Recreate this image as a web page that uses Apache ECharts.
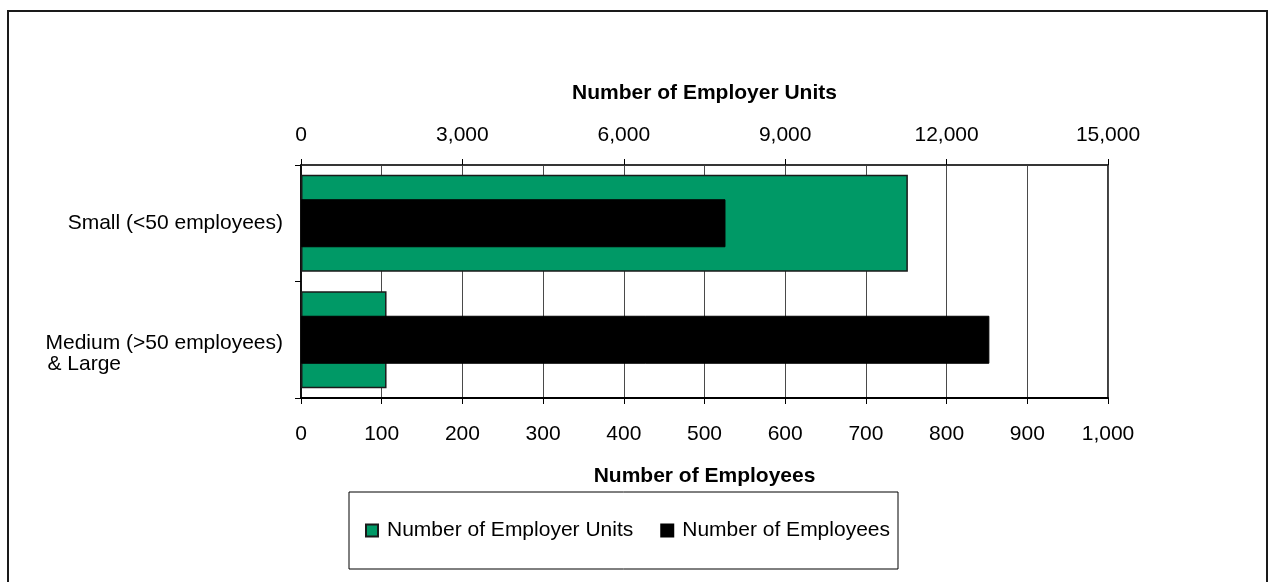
<!DOCTYPE html>
<html><head><meta charset="utf-8">
<script src="https://cdn.jsdelivr.net/npm/echarts@6/dist/echarts.min.js"></script>
<style>html,body{margin:0;padding:0;background:#fff}#c{width:1269px;height:582px}</style>
</head><body><div id="c"></div>
<script>
const categories = ['Small (<50 employees)', 'Medium (>50 employees) & Large'];
const employerUnits = [11280, 1590];
const employees = [526, 853];
const unitsAxis = { min: 0, max: 15000, interval: 3000 };
const employeesAxis = { min: 0, max: 1000, interval: 100 };
const seriesNames = ['Number of Employer Units', 'Number of Employees'];

const FONT = 'Liberation Sans, Arial, sans-serif';
const fmt = v => Number(v).toLocaleString('en-US');

const chart = echarts.init(document.getElementById('c'), null, { renderer: 'canvas' });
chart.setOption({
  backgroundColor: '#fff',
  animation: false,
  textStyle: { fontFamily: FONT, color: '#000' },
  graphic: [{
    type: 'rect', silent: true, z: -1,
    shape: { x: 8, y: 11, width: 1259, height: 620 },
    style: { fill: 'none', stroke: '#1a1a1a', lineWidth: 2 }
  }],
  grid: { left: 301, right: 161, top: 165, bottom: 184, show: true, borderColor: '#000', borderWidth: 1.5, backgroundColor: 'transparent' },
  legend: {
    left: 349, top: 492,
    icon: 'rect', itemWidth: 12, itemHeight: 12, itemGap: 27,
    padding: [28, 8, 28, 16],
    borderColor: '#000', borderWidth: 1,
    textStyle: { fontSize: 21, color: '#000', fontFamily: FONT, padding: [0, 0, 0, 4] },
    data: seriesNames
  },
  xAxis: [{
    type: 'value', position: 'top',
    min: unitsAxis.min, max: unitsAxis.max, interval: unitsAxis.interval,
    name: seriesNames[0], nameLocation: 'middle', nameGap: 61,
    nameTextStyle: { fontSize: 21, fontWeight: 'bold', color: '#000', fontFamily: FONT },
    axisLine: { show: true, lineStyle: { color: '#333', width: 1.5 } },
    axisTick: { show: true, inside: false, length: 6, lineStyle: { color: '#000', width: 1 } },
    axisLabel: { fontSize: 21, color: '#000', margin: 19, formatter: fmt, fontFamily: FONT },
    splitLine: { show: false }
  }, {
    type: 'value', position: 'bottom',
    min: employeesAxis.min, max: employeesAxis.max, interval: employeesAxis.interval,
    name: seriesNames[1], nameLocation: 'middle', nameGap: 68,
    nameTextStyle: { fontSize: 21, fontWeight: 'bold', color: '#000', fontFamily: FONT },
    axisLine: { show: true, lineStyle: { color: '#000', width: 2 } },
    axisTick: { show: true, inside: false, length: 6, lineStyle: { color: '#000', width: 1 } },
    axisLabel: { fontSize: 21, color: '#000', margin: 26, formatter: fmt, fontFamily: FONT },
    splitLine: { show: true, lineStyle: { color: '#4a4a4a', width: 1 } }
  }],
  yAxis: [{
    type: 'category', inverse: true, data: categories,
    axisLine: { show: true, lineStyle: { color: '#000', width: 1.5 } },
    axisTick: { show: true, length: 6, lineStyle: { color: '#000' } },
    axisLabel: {
      fontSize: 21, color: '#000', margin: 18, fontFamily: FONT,
      formatter: function (v, i) {
        if (i === 1) {
          const parts = v.split(' & ');
          return '{e| }\n{a|' + parts[0] + '}\n{b|& ' + parts[1] + '}';
        }
        return '{a|' + v + '}';
      },
      rich: {
        e: { fontSize: 21, lineHeight: 27, color: '#000', fontFamily: FONT },
        a: { fontSize: 21, lineHeight: 21, color: '#000', fontFamily: FONT },
        b: { fontSize: 21, lineHeight: 21, color: '#000', fontFamily: FONT, align: 'left', padding: [0, 0, 0, 2] }
      }
    },
    splitLine: { show: false }
  }, {
    type: 'category', inverse: true, data: categories, show: false
  }],
  series: [{
    name: seriesNames[0], type: 'bar', xAxisIndex: 0, yAxisIndex: 0,
    data: employerUnits, barWidth: 97,
    itemStyle: { color: '#009966', borderColor: '#1a1a1a', borderWidth: 1.5 }
  }, {
    name: seriesNames[1], type: 'bar', xAxisIndex: 1, yAxisIndex: 1,
    data: employees, barWidth: 48,
    itemStyle: { color: '#000', borderColor: '#000', borderWidth: 1 }
  }]
});
</script></body></html>
